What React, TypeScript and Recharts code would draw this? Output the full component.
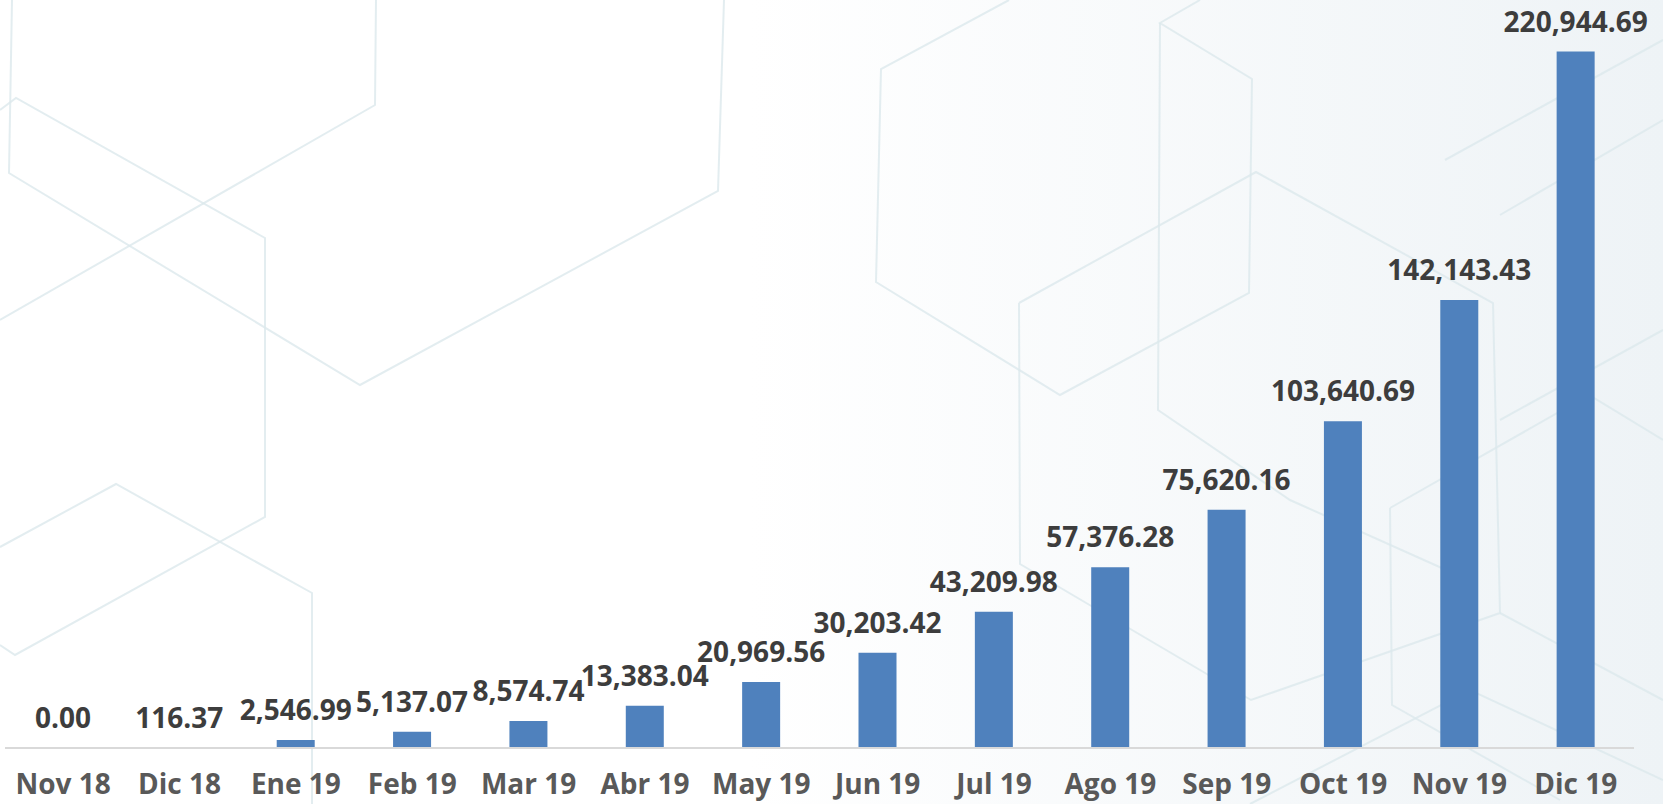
import React from 'react';
import { BarChart, Bar, XAxis, YAxis, LabelList } from 'recharts';

const months = [
  'Nov 18', 'Dic 18', 'Ene 19', 'Feb 19', 'Mar 19', 'Abr 19', 'May 19',
  'Jun 19', 'Jul 19', 'Ago 19', 'Sep 19', 'Oct 19', 'Nov 19', 'Dic 19',
];

const amounts = [
  0, 116.37, 2546.99, 5137.07, 8574.74, 13383.04, 20969.56,
  30203.42, 43209.98, 57376.28, 75620.16, 103640.69, 142143.43, 220944.69,
];

const data = months.map((month, i) => ({ month, amount: amounts[i] }));

const FONT = '"Open Sans", "Noto Sans", sans-serif';

const fmt = (v: any) =>
  Number(v).toLocaleString('en-US', { minimumFractionDigits: 2, maximumFractionDigits: 2 });

// faint hexagon pattern behind the chart (decoration only)
const hexLines = [
  '12,0 9,173 360,385 718,191 724,0',
  '0,320 375,105 376,0',
  '0,110 16,98 265,238 265,517 15,655 0,645',
  '0,547 116,484 312,593 312,804',
  '1009,0 881,69 876,282 1060,395 1249,293 1252,79 1160,23 1200,0',
  '1160,23 1158,410 1290,500 1444,569',
  '1019,303 1256,172 1493,303 1500,613 1251,700 1020,564 1019,303',
  '1445,160 1663,40',
  '1500,215 1663,120',
  '1500,420 1663,330',
  '1390,508 1589,395 1663,440',
  '1390,508 1392,705 1560,800',
  '1500,613 1663,700',
  '1250,804 1470,690 1663,780',
];

const Background: React.FC = () => (
  <svg width={1663} height={804} style={{ position: 'absolute', left: 0, top: 0 }}>
    <defs>
      <linearGradient id="bg" x1="0" y1="0" x2="1" y2="0">
        <stop offset="0%" stopColor="#ffffff" />
        <stop offset="45%" stopColor="#ffffff" />
        <stop offset="100%" stopColor="#eef3f6" />
      </linearGradient>
    </defs>
    <rect x={0} y={0} width={1663} height={804} fill="url(#bg)" />
    {hexLines.map((pts, i) => (
      <polyline key={i} points={pts} fill="none" stroke="#dce9ec" strokeWidth={2} opacity={0.8} />
    ))}
  </svg>
);

export default function App() {
  return (
    <div style={{ position: 'absolute', left: 0, top: 0, width: 1663, height: 804, overflow: 'hidden', fontFamily: FONT }}>
      <Background />
      <div style={{ position: 'absolute', left: 0, top: 0 }}>
        <BarChart
          width={1663}
          height={804}
          data={data}
          margin={{ top: 23, right: 29, bottom: 0, left: 5 }}
        >
          <XAxis
            dataKey="month"
            interval={0}
            height={56}
            tickLine={false}
            tickMargin={20}
            axisLine={{ stroke: '#d9d9d9', strokeWidth: 2 }}
            tick={{ fill: '#595959', fontSize: 28, fontWeight: 700, fontFamily: FONT }}
          />
          <YAxis hide domain={[0, 230000]} />
          <Bar dataKey="amount" fill="#4f81bd" barSize={38} minPointSize={0.01} isAnimationActive={false}>
            <LabelList
              dataKey="amount"
              position="top"
              offset={20}
              formatter={fmt}
              fill="#3d3d3d"
              fontSize={28}
              fontWeight={700}
              fontFamily={FONT}
            />
          </Bar>
        </BarChart>
      </div>
    </div>
  );
}
